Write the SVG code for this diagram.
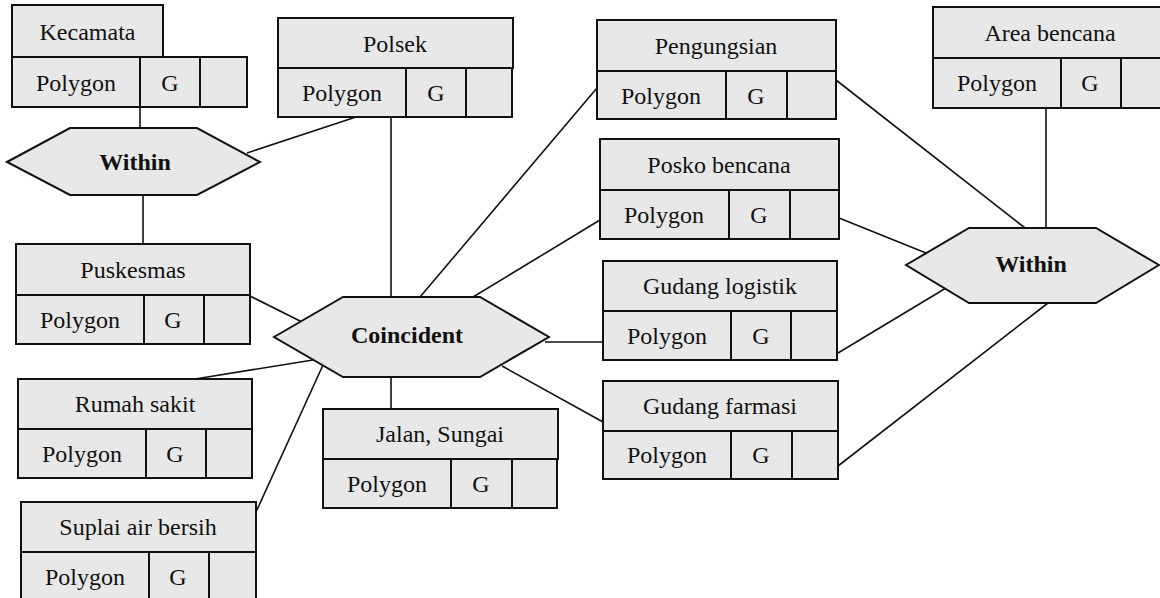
<svg xmlns="http://www.w3.org/2000/svg" width="1160" height="598" viewBox="0 0 1160 598">
<style>
.box{fill:#e8e8e8;stroke:#111;stroke-width:2}
.hex{fill:#e8e8e8;stroke:#111;stroke-width:2}
.div{stroke:#111;stroke-width:2}
.t{font-family:"Liberation Serif","Times New Roman",serif;font-size:24px;fill:#111;text-anchor:middle}
.b{font-weight:bold}
#connectors line{stroke:#111;stroke-width:1.6}
</style>
<rect width="1160" height="598" fill="#fff"/>
<g id="connectors">
<line x1="140" y1="107" x2="140" y2="128"/>
<line x1="143" y1="195" x2="143" y2="244"/>
<line x1="356" y1="117" x2="247" y2="153"/>
<line x1="391" y1="117" x2="391" y2="297"/>
<line x1="597" y1="88" x2="420" y2="297"/>
<line x1="600" y1="220" x2="473" y2="297"/>
<line x1="250" y1="296" x2="302" y2="322"/>
<line x1="195" y1="379" x2="313" y2="360"/>
<line x1="256" y1="512" x2="323" y2="365"/>
<line x1="391" y1="377" x2="391" y2="409"/>
<line x1="545" y1="342" x2="603" y2="342"/>
<line x1="502" y1="366" x2="603" y2="422"/>
<line x1="836" y1="80" x2="1025" y2="228"/>
<line x1="839" y1="218" x2="926" y2="253"/>
<line x1="838" y1="353" x2="946" y2="288"/>
<line x1="838" y1="466" x2="1048" y2="303"/>
<line x1="1046" y1="108" x2="1046" y2="228"/>
</g>
<g id="kecamata">
<rect class="box" x="12" y="5" width="151" height="52"/>
<rect class="box" x="12" y="57" width="235" height="50"/>
<line class="div" x1="140" y1="57" x2="140" y2="107"/>
<line class="div" x1="200" y1="57" x2="200" y2="107"/>
<text class="t" x="87.5" y="40">Kecamata</text>
<text class="t" x="76" y="91">Polygon</text>
<text class="t" x="170" y="91">G</text>
</g>
<g id="polsek">
<rect class="box" x="278" y="18" width="235" height="50"/>
<rect class="box" x="278" y="68" width="234" height="49"/>
<line class="div" x1="406" y1="68" x2="406" y2="117"/>
<line class="div" x1="466" y1="68" x2="466" y2="117"/>
<text class="t" x="395" y="52">Polsek</text>
<text class="t" x="342" y="101">Polygon</text>
<text class="t" x="436" y="101">G</text>
</g>
<g id="puskesmas">
<rect class="box" x="16" y="244" width="234" height="51"/>
<rect class="box" x="16" y="295" width="234" height="49"/>
<line class="div" x1="144" y1="295" x2="144" y2="344"/>
<line class="div" x1="204" y1="295" x2="204" y2="344"/>
<text class="t" x="133" y="278">Puskesmas</text>
<text class="t" x="80" y="328">Polygon</text>
<text class="t" x="173" y="328">G</text>
</g>
<g id="rumah-sakit">
<rect class="box" x="18" y="379" width="234" height="50"/>
<rect class="box" x="18" y="429" width="234" height="49"/>
<line class="div" x1="146" y1="429" x2="146" y2="478"/>
<line class="div" x1="206" y1="429" x2="206" y2="478"/>
<text class="t" x="135" y="412">Rumah sakit</text>
<text class="t" x="82" y="462">Polygon</text>
<text class="t" x="175" y="462">G</text>
</g>
<g id="suplai-air-bersih">
<rect class="box" x="21" y="502" width="235" height="50"/>
<rect class="box" x="21" y="552" width="235" height="50"/>
<line class="div" x1="149" y1="552" x2="149" y2="602"/>
<line class="div" x1="209" y1="552" x2="209" y2="602"/>
<text class="t" x="138" y="535">Suplai air bersih</text>
<text class="t" x="85" y="585">Polygon</text>
<text class="t" x="178" y="585">G</text>
</g>
<g id="jalan-sungai">
<rect class="box" x="323" y="409" width="235" height="50"/>
<rect class="box" x="323" y="459" width="234" height="49"/>
<line class="div" x1="451" y1="459" x2="451" y2="508"/>
<line class="div" x1="512" y1="459" x2="512" y2="508"/>
<text class="t" x="440" y="442">Jalan, Sungai</text>
<text class="t" x="387" y="492">Polygon</text>
<text class="t" x="481" y="492">G</text>
</g>
<g id="pengungsian">
<rect class="box" x="597" y="20" width="239" height="51"/>
<rect class="box" x="597" y="71" width="239" height="48"/>
<line class="div" x1="726" y1="71" x2="726" y2="119"/>
<line class="div" x1="787" y1="71" x2="787" y2="119"/>
<text class="t" x="716" y="54">Pengungsian</text>
<text class="t" x="661" y="104">Polygon</text>
<text class="t" x="756" y="104">G</text>
</g>
<g id="posko-bencana">
<rect class="box" x="600" y="139" width="239" height="51"/>
<rect class="box" x="600" y="190" width="239" height="49"/>
<line class="div" x1="729" y1="190" x2="729" y2="239"/>
<line class="div" x1="790" y1="190" x2="790" y2="239"/>
<text class="t" x="719" y="173">Posko bencana</text>
<text class="t" x="664" y="223">Polygon</text>
<text class="t" x="759" y="223">G</text>
</g>
<g id="gudang-logistik">
<rect class="box" x="603" y="261" width="234" height="50"/>
<rect class="box" x="603" y="311" width="234" height="49"/>
<line class="div" x1="731" y1="311" x2="731" y2="360"/>
<line class="div" x1="791" y1="311" x2="791" y2="360"/>
<text class="t" x="720" y="294">Gudang logistik</text>
<text class="t" x="667" y="344">Polygon</text>
<text class="t" x="761" y="344">G</text>
</g>
<g id="gudang-farmasi">
<rect class="box" x="603" y="381" width="235" height="50"/>
<rect class="box" x="603" y="431" width="235" height="48"/>
<line class="div" x1="731" y1="431" x2="731" y2="479"/>
<line class="div" x1="792" y1="431" x2="792" y2="479"/>
<text class="t" x="720" y="414">Gudang farmasi</text>
<text class="t" x="667" y="463">Polygon</text>
<text class="t" x="761" y="463">G</text>
</g>
<g id="area-bencana">
<rect class="box" x="933" y="7" width="240" height="51"/>
<rect class="box" x="933" y="58" width="240" height="50"/>
<line class="div" x1="1061" y1="58" x2="1061" y2="108"/>
<line class="div" x1="1121" y1="58" x2="1121" y2="108"/>
<text class="t" x="1050" y="41">Area bencana</text>
<text class="t" x="997" y="91">Polygon</text>
<text class="t" x="1090" y="91">G</text>
</g>
<g id="within-left">
<polygon class="hex" points="7,162 70,128 197,128 260,162 197,195 70,195"/>
<text class="t b" x="135" y="170">Within</text>
</g>
<g id="coincident">
<polygon class="hex" points="274,337 343,297 480,297 549,337 480,377 343,377"/>
<text class="t b" x="407" y="343">Coincident</text>
</g>
<g id="within-right">
<polygon class="hex" points="906,265 969,228 1096,228 1159,265 1096,303 969,303"/>
<text class="t b" x="1031" y="272">Within</text>
</g>
</svg>
